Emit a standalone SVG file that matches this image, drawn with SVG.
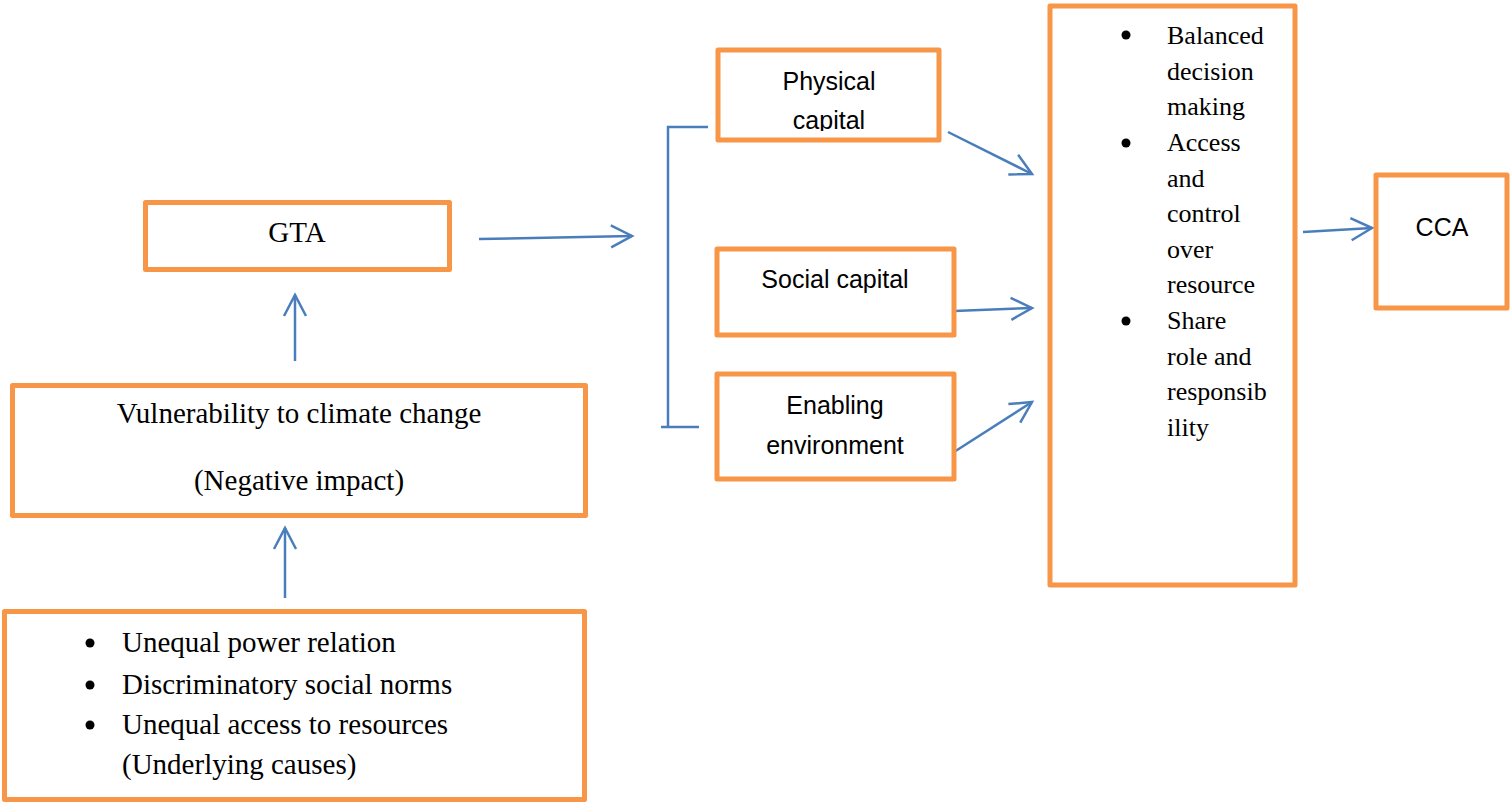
<svg xmlns="http://www.w3.org/2000/svg" width="1510" height="804" viewBox="0 0 1510 804">
<style>
.box{fill:#fff;stroke:#F79646;stroke-width:5;stroke-linejoin:round}
.boxs{fill:none;stroke:#F79646;stroke-width:5;stroke-linejoin:round}
.ser{font-family:"Liberation Serif","Times New Roman",serif;fill:#000}
.san{font-family:"Liberation Sans",Arial,sans-serif;fill:#000;font-size:25px;text-anchor:middle}
.ln{fill:none;stroke:#4A7EBB;stroke-width:2.5}
.arr{marker-end:url(#ah)}
</style>
<defs>
<marker id="ah" markerUnits="userSpaceOnUse" markerWidth="30" markerHeight="30" viewBox="-25 -15 30 30" refX="0" refY="0" orient="auto">
<path d="M -21 -11 L 0 0 L -21 11" fill="none" stroke="#4A7EBB" stroke-width="2.5"/>
</marker>
<clipPath id="cpPhys"><rect x="718" y="50" width="221" height="81"/></clipPath>
</defs>
<rect width="1510" height="804" fill="#fff"/>

<g id="connectors">
<path class="ln arr" d="M479 239 L632 236"/>
<path class="ln arr" d="M295 361 L295 295"/>
<path class="ln arr" d="M285 598 L285 528"/>
<path class="ln" d="M708 127 L668 127 L668 427"/>
<path class="ln" d="M661 427 L699 427"/>
<path class="ln arr" d="M948 132 L1032 174"/>
<path class="ln arr" d="M954 311 L1032 308"/>
<path class="ln arr" d="M954 452 L1032 402"/>
<path class="ln arr" d="M1303 232 L1372 228"/>
</g>

<g id="gta">
<rect class="box" x="145.5" y="202.5" width="304" height="67"/>
<text class="ser" x="297" y="242" font-size="29" text-anchor="middle">GTA</text>
</g>

<g id="vulnerability">
<rect class="box" x="12.5" y="385.5" width="573" height="130"/>
<text class="ser" x="299" y="423" font-size="29" text-anchor="middle">Vulnerability to climate change</text>
<text class="ser" x="299" y="490" font-size="29" text-anchor="middle">(Negative impact)</text>
</g>

<g id="causes">
<rect class="box" x="4.5" y="611.5" width="580" height="188"/>
<g class="ser" font-size="29">
<circle cx="90" cy="643" r="4.5"/>
<circle cx="90" cy="685" r="4.5"/>
<circle cx="90" cy="725" r="4.5"/>
<text x="122" y="652">Unequal power relation</text>
<text x="122" y="694">Discriminatory social norms</text>
<text x="122" y="734">Unequal access to resources</text>
<text x="122" y="774">(Underlying causes)</text>
</g>
</g>

<g id="physical">
<rect x="718" y="50" width="221" height="90" fill="#fff"/>
<g clip-path="url(#cpPhys)">
<text class="san" x="829" y="90">Physical</text>
<text class="san" x="829" y="129">capital</text>
</g>
<rect class="boxs" x="718" y="50" width="221" height="90"/>
</g>

<g id="social">
<rect class="box" x="717" y="249" width="237" height="86"/>
<text class="san" x="835" y="288" font-size="26">Social capital</text>
</g>

<g id="enabling">
<rect class="box" x="717" y="374" width="237" height="105"/>
<text class="san" x="835" y="414" font-size="26">Enabling</text>
<text class="san" x="835" y="454" font-size="26">environment</text>
</g>

<g id="outcomes">
<rect class="box" x="1050" y="6" width="245" height="579"/>
<g class="ser" font-size="26">
<circle cx="1126" cy="35" r="4.5"/>
<circle cx="1126" cy="143" r="4.5"/>
<circle cx="1126" cy="321" r="4.5"/>
<text x="1167" y="44">Balanced</text>
<text x="1167" y="79.5">decision</text>
<text x="1167" y="115">making</text>
<text x="1167" y="151">Access</text>
<text x="1167" y="186.5">and</text>
<text x="1167" y="222">control</text>
<text x="1167" y="257.5">over</text>
<text x="1167" y="293">resource</text>
<text x="1167" y="329">Share</text>
<text x="1167" y="364.5">role and</text>
<text x="1167" y="400">responsib</text>
<text x="1167" y="435.5">ility</text>
</g>
</g>

<g id="cca">
<rect class="box" x="1376" y="175" width="131" height="133"/>
<text class="san" x="1442" y="236">CCA</text>
</g>
</svg>
